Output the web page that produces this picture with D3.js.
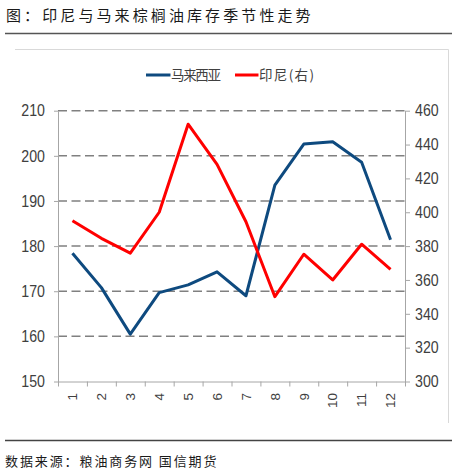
<!DOCTYPE html>
<html>
<head>
<meta charset="utf-8">
<script src="https://cdn.jsdelivr.net/npm/d3@7/dist/d3.min.js"></script>
<style>
  html, body { margin: 0; padding: 0; background: #fff; }
  svg { display: block; }
  .num { font-family: "Liberation Sans", Arial, sans-serif; }
  .cjk { font-family: "Noto Sans CJK SC", sans-serif; }
</style>
</head>
<body>
<svg id="chart" width="457" height="473"></svg>
<script>
const months = ["1","2","3","4","5","6","7","8","9","10","11","12"];
const malaysia = [178.4, 170.8, 160.5, 169.7, 171.4, 174.3, 169.0, 193.5, 202.6, 203.1, 198.6, 181.4];
const indonesia = [395.0, 384.6, 375.8, 400.0, 452.0, 428.3, 394.4, 350.1, 375.2, 360.0, 381.1, 366.3];
const leftTicks = [150, 160, 170, 180, 190, 200, 210];
const rightTicks = [300, 320, 340, 360, 380, 400, 420, 440, 460];
const seriesNames = ["马来西亚", "印尼(右)"];
const colors = ["#0E4A7F", "#FF0000"];

const svg = d3.select("#chart");
const L = 58, R = 405, T = 110.7, B = 381.5;
const SX = 0.86; // horizontal condensing for numeric tick labels

// Title
svg.append("text").attr("class", "cjk")
  .attr("x", 6).attr("y", 21)
  .attr("font-size", 15).attr("letter-spacing", 3.1).attr("fill", "#1a1a1a")
  .text("图：印尼与马来棕榈油库存季节性走势");
svg.append("line").attr("x1", 5).attr("x2", 452).attr("y1", 33.5).attr("y2", 33.5)
  .attr("stroke", "#555").attr("stroke-width", 1.6);

// Chart frame (top + right)
svg.append("path").attr("d", "M15,49.5H448.5V423")
  .attr("fill", "none").attr("stroke", "#d9d9d9").attr("stroke-width", 1);

const x = d3.scaleBand().domain(months).range([L, R]).padding(0);
const xb = d3.scaleLinear().domain([0, months.length]).range([L, R]);
const yL = d3.scaleLinear().domain([150, 210]).range([B, T]);
const yR = d3.scaleLinear().domain([300, 460]).range([B, T]);

// Gridlines
svg.append("g").selectAll("line").data(leftTicks.filter(d => d > 150)).join("line")
  .attr("x1", L).attr("x2", R)
  .attr("y1", d => yL(d)).attr("y2", d => yL(d))
  .attr("stroke", "#808080").attr("stroke-width", 1.5).attr("stroke-dasharray", "9,4.5");

function styleAxis(g) {
  g.selectAll(".domain").attr("stroke", "#a6a6a6").attr("stroke-width", 1);
  g.selectAll(".tick line").attr("stroke", "#a6a6a6").attr("stroke-width", 1);
  g.selectAll("text").attr("fill", "#404040");
}

// Left axis
const gl = svg.append("g").attr("class", "num").attr("transform", `translate(${L},0)`)
  .call(d3.axisLeft(yL).tickValues(leftTicks).tickSize(4).tickPadding(9).tickSizeOuter(0));
gl.selectAll("text").attr("font-size", 16.5)
  .attr("x", -13 / SX).attr("transform", `scale(${SX},1)`);
styleAxis(gl);

// Right axis
const gr = svg.append("g").attr("class", "num").attr("transform", `translate(${R},0)`)
  .call(d3.axisRight(yR).tickValues(rightTicks).tickSize(5).tickPadding(5).tickSizeOuter(0));
gr.selectAll("text").attr("font-size", 16.5)
  .attr("x", 10 / SX).attr("transform", `scale(${SX},1)`);
styleAxis(gr);

// Bottom axis: ticks at band boundaries
const gb = svg.append("g").attr("transform", `translate(0,${B})`)
  .call(d3.axisBottom(xb).tickValues(d3.range(0, months.length + 1)).tickSize(5).tickFormat("").tickSizeOuter(0));
styleAxis(gb);
// Bottom labels rotated
const gbl = svg.append("g").attr("transform", `translate(0,${B})`)
  .call(d3.axisBottom(x).tickSize(0).tickPadding(0));
gbl.select(".domain").remove();
gbl.selectAll("text")
  .attr("font-family", "'Liberation Sans', Arial, sans-serif")
  .attr("font-size", 13.5).attr("fill", "#404040")
  .attr("transform", "translate(0,11.5) rotate(-90)")
  .attr("text-anchor", "end").attr("dy", "0.35em").attr("x", 0).attr("y", 0);

// Lines
const lineL = d3.line().x((d, i) => x(months[i]) + x.bandwidth() / 2).y(d => yL(d));
const lineR = d3.line().x((d, i) => x(months[i]) + x.bandwidth() / 2).y(d => yR(d));
svg.append("path").datum(malaysia).attr("d", lineL)
  .attr("fill", "none").attr("stroke", colors[0]).attr("stroke-width", 3).attr("stroke-linejoin", "round");
svg.append("path").datum(indonesia).attr("d", lineR)
  .attr("fill", "none").attr("stroke", colors[1]).attr("stroke-width", 3).attr("stroke-linejoin", "round");

// Legend
const legendItems = [
  { name: seriesNames[0], color: colors[0], x1: 146, x2: 170.5, tx: 171, w: 50 },
  { name: seriesNames[1], color: colors[1], x1: 235, x2: 258.5, tx: 259, w: 55 }
];
const lg = svg.append("g");
legendItems.forEach(it => {
  lg.append("line").attr("x1", it.x1).attr("x2", it.x2).attr("y1", 75).attr("y2", 75)
    .attr("stroke", it.color).attr("stroke-width", 3);
  lg.append("text").attr("class", "cjk").attr("x", it.tx).attr("y", 80)
    .attr("font-size", 13.5).attr("fill", "#404040")
    .attr("textLength", it.w).attr("lengthAdjust", "spacing").text(it.name);
});

// Bottom rule and source
svg.append("line").attr("x1", 5).attr("x2", 452).attr("y1", 440.5).attr("y2", 440.5)
  .attr("stroke", "#444").attr("stroke-width", 1.6);
svg.append("text").attr("class", "cjk")
  .attr("x", 5).attr("y", 466)
  .attr("font-size", 13).attr("letter-spacing", 1.9).attr("fill", "#1a1a1a")
  .text("数据来源：粮油商务网 国信期货");
</script>
</body>
</html>
